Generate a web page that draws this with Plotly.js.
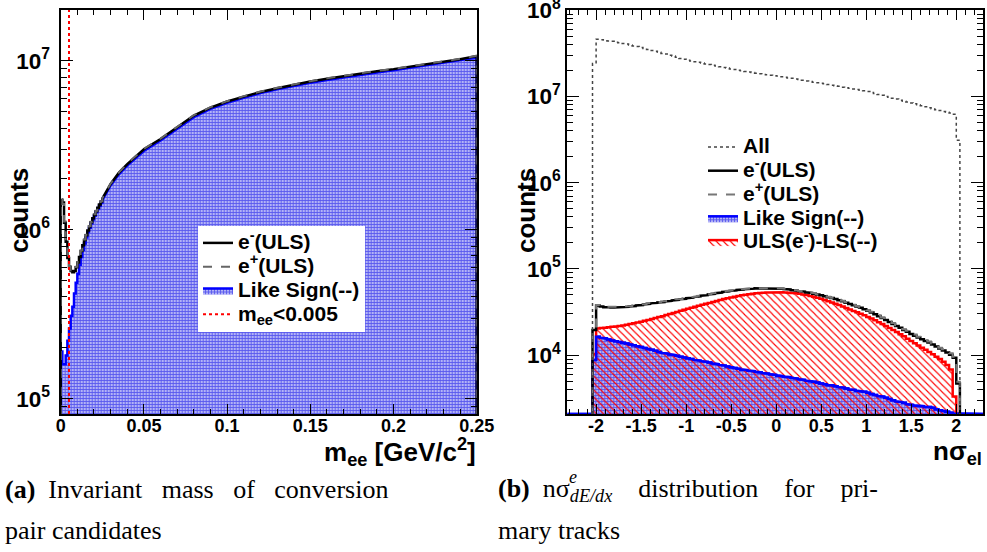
<!DOCTYPE html>
<html>
<head>
<meta charset="utf-8">
<script src="https://cdn.plot.ly/plotly-3.0.1.min.js"></script>
<style>html,body{margin:0;padding:0;background:#fff;}#chart{width:987px;height:552px;}</style>
</head>
<body>
<div id="chart"></div>
<script>
// ===================== DATA =====================
// (a) invariant mass of conversion pair candidates
const massLowEdges = [0.000,0.001,0.002,0.003,0.004,0.005,0.006,0.007,0.008,0.009,0.010,0.011,0.012,0.013,0.014,0.015,0.016,0.017,0.018,0.019,0.020,0.021,0.022,0.023,0.024,0.025];
const eMinusLow   = [1.50e6,1.45e6,1.10e6,8.5e5,6.8e5,6.0e5,5.7e5,5.6e5,5.7e5,6.0e5,6.4e5,6.9e5,7.5e5,8.1e5,8.7e5,9.3e5,9.9e5,1.05e6,1.11e6,1.17e6,1.23e6,1.29e6,1.35e6,1.41e6,1.47e6];
const ePlusLow    = [1.52e6,1.42e6,1.12e6,8.6e5,6.9e5,6.1e5,5.75e5,5.65e5,5.75e5,6.05e5,6.45e5,6.95e5,7.55e5,8.15e5,8.75e5,9.35e5,9.95e5,1.055e6,1.115e6,1.175e6,1.235e6,1.295e6,1.355e6,1.415e6,1.475e6];
const likeSignLow = [1.9e5,1.6e5,1.6e5,1.8e5,2.2e5,2.6e5,3.1e5,3.5e5,4.2e5,4.85e5,5.5e5,6.2e5,6.9e5,7.6e5,8.3e5,9.0e5,9.7e5,1.03e6,1.09e6,1.15e6,1.21e6,1.27e6,1.33e6,1.39e6,1.44e6];
const massHigh     = [0.025,0.03,0.035,0.04,0.045,0.05,0.06,0.07,0.08,0.09,0.10,0.11,0.12,0.13,0.14,0.15,0.16,0.17,0.18,0.19,0.20,0.21,0.22,0.23,0.24,0.25];
const eMinusHigh   = [1.53e6,1.87e6,2.18e6,2.45e6,2.70e6,3.00e6,3.45e6,4.05e6,4.75e6,5.30e6,5.75e6,6.15e6,6.55e6,6.90e6,7.25e6,7.55e6,7.85e6,8.15e6,8.40e6,8.70e6,8.95e6,9.25e6,9.55e6,9.90e6,1.025e7,1.07e7];
const ePlusHigh    = [1.54e6,1.88e6,2.19e6,2.47e6,2.72e6,3.02e6,3.47e6,4.08e6,4.78e6,5.33e6,5.78e6,6.19e6,6.59e6,6.94e6,7.29e6,7.59e6,7.89e6,8.19e6,8.44e6,8.74e6,8.99e6,9.29e6,9.60e6,9.95e6,1.03e7,1.075e7];
const likeSignHigh = [1.50e6,1.83e6,2.13e6,2.40e6,2.65e6,2.93e6,3.38e6,3.97e6,4.65e6,5.20e6,5.65e6,6.05e6,6.45e6,6.80e6,7.12e6,7.42e6,7.72e6,8.00e6,8.25e6,8.55e6,8.80e6,9.10e6,9.40e6,9.72e6,1.005e7,1.05e7];
const massCut = 0.005;

// (b) n sigma dE/dx of primary tracks : 102 bins of width 0.04 starting at -2.04
const nsigBinLow = -2.04, nsigBinWidth = 0.04;
const allTracksM = [24,46,45.5,45,44,43.5,42.5,42,41,40.5, 39.5,38.5,38,37,36,35,34,33.5,32.5,31.5, 31,30,29.5,28.5,27.5,27,26.3,25.8,25.3,24.9, 24.4,23.8,23.4,23,22.5,22.1,21.7,21.3,20.8,20.5, 20.1,19.8,19.5,19.2,18.9,18.6,18.3,18.0,17.8,17.6, 17.4,17.2,16.9,16.7,16.4,16.2,15.9,15.7,15.4,15.1, 14.9,14.6,14.4,14.2,14.0,13.7,13.5,13.3,13.1,12.8, 12.6,12.4,12.2,12.0,11.8,11.6,11.4,11.1,10.8,10.5, 10.3,10.0,9.75,9.5,9.3,9.05,8.8,8.6,8.4,8.2, 8.0,7.8,7.6,7.4,7.2,7.0,6.85,6.7,6.55,6.4, 6.2,3.1]; // millions
const eMinusULSk = [19.5,37.5,36.5,36.0,35.8,35.6,35.6,35.7,35.9,36.2, 36.6,37.1,37.6,38.1,38.7,39.3,39.8,40.3,40.8,41.3, 41.9,42.5,43.1,43.7,44.3,45.0,45.7,46.4,47.1,47.9, 48.8,49.6,50.5,51.4,52.3,53.1,53.9,54.7,55.5,56.2, 56.9,57.5,58.1,58.6,59.0,59.4,59.7,59.9,60.0,60.0, 59.8,59.4,58.9,58.3,57.6,56.8,55.9,55.2,54.5,53.5, 52.5,51.5,50.4,49.3,48.2,47.0,45.8,44.6,43.3,42.0, 40.6,39.2,37.9,36.6,35.3,34.0,32.6,31.2,29.8,28.3, 26.9,25.5,24.2,23.0,21.8,20.7,19.6,18.6,17.6,16.8, 16.0,15.3,14.6,14.0,13.3,12.6,11.9,11.3,10.7,10.1, 9.3,4.7]; // thousands
const ePlusULSk = [19.0,38.2,37.0,36.6,36.3,36.2,36.1,36.3,36.4,36.8, 37.1,37.7,38.1,38.7,39.2,39.9,40.3,40.9,41.3,41.9, 42.4,43.1,43.6,44.3,44.8,45.6,46.2,47.0,47.6,48.5, 49.3,50.2,51.0,52.0,52.8,53.7,54.4,55.3,56.0,56.8, 57.4,58.1,58.6,59.2,59.5,60.0,60.2,60.5,60.5,60.6, 60.3,60.0,59.4,58.9,58.1,57.4,56.4,55.8,55.0,54.1, 53.0,52.1,50.9,49.9,48.7,47.6,46.3,45.2,43.8,42.6, 41.1,39.8,38.3,37.2,35.7,34.6,33.0,31.8,30.2,28.9, 27.3,26.1,24.6,23.5,22.2,21.2,20.0,19.1,18.0,17.3, 16.3,15.7,14.9,14.4,13.6,13.0,12.2,11.7,11.0,10.5, 9.6,4.9];
const likeSignK = [8.8,16.3,15.9,15.6,15.2,14.8,14.5,14.2,13.9,13.6, 13.3,13.0,12.7,12.4,12.1,11.8,11.5,11.2,10.9,10.6, 10.4,10.2,10.0,9.8,9.6,9.4,9.2,9.0,8.8,8.65, 8.5,8.35,8.2,8.0,7.85,7.7,7.55,7.4,7.25,7.1, 6.95,6.8,6.7,6.6,6.5,6.4,6.3,6.2,6.1,6.0, 5.9,5.8,5.7,5.6,5.55,5.45,5.35,5.25,5.15,5.05, 4.95,4.9,4.8,4.7,4.6,4.5,4.45,4.35,4.25,4.2, 4.1,4.0,3.95,3.85,3.8,3.75,3.65,3.55,3.45,3.35, 3.3,3.2,3.1,3.0,2.9,2.85,2.8,2.7,2.65,2.6, 2.6,2.55,2.5,2.5,2.45,2.35,2.3,2.25,2.2,2.15, 2.1,0];
const ulsMinusLSk = [10.3,20.3,20.6,20.8,21.0,21.3,21.5,21.8,22.1,22.5, 22.9,23.4,23.9,24.4,25.0,25.6,26.2,26.9,27.6,28.3, 29.1,29.9,30.8,31.7,32.6,33.5,34.4,35.3,36.3,37.3, 38.3,39.3,40.3,41.4,42.5,43.6,44.6,45.7,46.7,47.6, 48.5,49.3,50.1,50.8,51.4,52.0,52.5,52.9,53.2,53.4, 53.5,53.5,53.4,53.2,52.9,52.5,52.0,51.4,50.6,49.7, 48.6,47.4,46.2,44.9,43.6,42.2,40.8,39.4,38.0,36.6, 35.2,33.8,32.5,31.3,30.1,28.9,27.7,26.5,25.3,24.1, 22.9,21.7,20.6,19.5,18.5,17.5,16.5,15.5,14.6,13.7, 12.9,12.2,11.5,10.9,10.2,9.6,9.0,8.4,7.7,6.8, 3.3,0];
const nsigTickVals = [-2,-1.5,-1,-0.5,0,0.5,1,1.5,2];
const nsigTickText = ['-2','-1.5','-1','-0.5','0','0.5','1','1.5','2'];

// ===================== BUILD =====================
const W = 987, H = 552;
const FONT = 'Liberation Sans, Arial, Helvetica, sans-serif';
const px = v => v / W, py = v => 1 - v / H;
const rangeA = {x:[0,0.25], y:[4.909,7.302]};
const rangeB = {x:[-2.32,2.30], y:[3.317,8.002]};
const floorA = Math.pow(10, rangeA.y[0]);
const floorB = Math.pow(10, rangeB.y[0]);
const topA = Math.pow(10, rangeA.y[1]);

function scaleArr(a, f){ return a.map(v => v * f); }

// step points for a histogram given edges + values (zero -> floor)
function histXY(edges, vals, floor, extendTo){
  const x = [], y = [];
  if (extendTo) { x.push(extendTo[0]); y.push(floor); }
  x.push(edges[0]); y.push(floor);
  for (let i = 0; i < vals.length; i++){
    const v = vals[i] > 0 ? vals[i] : floor;
    x.push(edges[i], edges[i+1]); y.push(v, v);
  }
  x.push(edges[vals.length]); y.push(floor);
  if (extendTo) { x.push(extendTo[1]); y.push(floor); }
  return {x, y};
}
// (a): fine steps at low mass, smooth curve afterwards
function massXY(low, high, floor){
  const h = histXY(massLowEdges, low, floor);
  const x = h.x.slice(0, -1), y = h.y.slice(0, -1);
  for (let i = 0; i < massHigh.length; i++){ x.push(massHigh[i]); y.push(high[i]); }
  x.push(massHigh[massHigh.length-1]); y.push(floor);
  return {x, y};
}
const nBins = allTracksM.length;
const nsigEdges = [];
for (let i = 0; i <= nBins; i++) nsigEdges.push(+(nsigBinLow + i * nsigBinWidth).toFixed(4));

const blueFillPattern = {shape:'+', size:3, solidity:0.5, fgcolor:'#5858ee', bgcolor:'#b3b3f6'};
const redFillPattern  = {shape:'\\', size:5, solidity:0.22, fgcolor:'#ff0000', bgcolor:'rgba(0,0,0,0)'};
const sp = s => '<span style="font-size:21px">' + s + '</span>';

const traces = [];
// ---- (a)
const aLS = massXY(likeSignLow, likeSignHigh, floorA);
const aEM = massXY(eMinusLow, eMinusHigh, floorA);
const aEP = massXY(ePlusLow, ePlusHigh, floorA);
traces.push({x:aLS.x, y:aLS.y, xaxis:'x', yaxis:'y', mode:'lines', fill:'toself', fillcolor:'#a0a0f2', fillpattern:blueFillPattern,
  line:{color:'#0000ff', width:2.5}, name:sp('Like Sign(--)'), legend:'legend', legendrank:3, hoverinfo:'skip'});
traces.push({x:aEM.x, y:aEM.y, xaxis:'x', yaxis:'y', mode:'lines', line:{color:'#000000', width:2.5},
  name:sp('e<sup>-</sup>(ULS)'), legend:'legend', legendrank:1});
traces.push({x:aEP.x, y:aEP.y, xaxis:'x', yaxis:'y', mode:'lines', line:{color:'#666666', width:2, dash:'dash'},
  name:sp('e<sup>+</sup>(ULS)'), legend:'legend', legendrank:2});
traces.push({x:[massCut, massCut], y:[floorA, topA], xaxis:'x', yaxis:'y', mode:'lines', line:{color:'#ff0000', width:2, dash:'dot'},
  name:sp('m<sub>ee</sub>&lt;0.005'), legend:'legend', legendrank:4});

// ---- (b)
const bLS  = histXY(nsigEdges, scaleArr(likeSignK, 1e3), floorB, rangeB.x);
const bSub = histXY(nsigEdges, scaleArr(ulsMinusLSk, 1e3), floorB);
const bEM  = histXY(nsigEdges, scaleArr(eMinusULSk, 1e3), floorB);
const bEP  = histXY(nsigEdges, scaleArr(ePlusULSk, 1e3), floorB);
const bAll = histXY(nsigEdges, scaleArr(allTracksM, 1e6), floorB);
traces.push({x:bLS.x, y:bLS.y, xaxis:'x2', yaxis:'y2', mode:'lines', fill:'toself', fillcolor:'#a0a0f2', fillpattern:blueFillPattern,
  line:{color:'#0000ff', width:2.5}, name:sp('Like Sign(--)'), legend:'legend2', legendrank:4});
traces.push({x:bSub.x, y:bSub.y, xaxis:'x2', yaxis:'y2', mode:'lines', fill:'toself', fillcolor:'rgba(0,0,0,0)', fillpattern:redFillPattern,
  line:{color:'#ff0000', width:2.5}, name:sp('ULS(e<sup>-</sup>)-LS(--)'), legend:'legend2', legendrank:5});
traces.push({x:bLS.x, y:bLS.y, xaxis:'x2', yaxis:'y2', mode:'lines', line:{color:'#0000ff', width:2.5}, showlegend:false, hoverinfo:'skip'});
traces.push({x:bEM.x, y:bEM.y, xaxis:'x2', yaxis:'y2', mode:'lines', line:{color:'#000000', width:2.5},
  name:sp('e<sup>-</sup>(ULS)'), legend:'legend2', legendrank:2});
traces.push({x:bEP.x, y:bEP.y, xaxis:'x2', yaxis:'y2', mode:'lines', line:{color:'#777777', width:2, dash:'dash'},
  name:sp('e<sup>+</sup>(ULS)'), legend:'legend2', legendrank:3});
traces.push({x:bAll.x, y:bAll.y, xaxis:'x2', yaxis:'y2', mode:'lines', line:{color:'#444444', width:1.5, dash:'dot'},
  name:sp('All'), legend:'legend2', legendrank:1});

const tickFont = {family:FONT, size:18, color:'#000', weight:700};
function xAxis(dom, anchor, range, extra){
  return Object.assign({domain:dom, anchor:anchor, range:range, showgrid:false, zeroline:false,
    showline:true, linecolor:'#000', linewidth:2, mirror:'allticks',
    ticks:'inside', ticklen:10, tickwidth:1, tickcolor:'#000', tickfont:tickFont,
    ticklabelstandoff:-6, ticklabeloverflow:'allow', fixedrange:true}, extra);
}
function yAxis(dom, anchor, range, standoff){
  return {domain:dom, anchor:anchor, type:'log', range:range, showgrid:false, zeroline:false,
    showline:true, linecolor:'#000', linewidth:2, mirror:'allticks',
    ticks:'inside', ticklen:12, tickwidth:1, tickcolor:'#000', tickfont:tickFont,
    dtick:1, exponentformat:'power', ticklabelstandoff:standoff, ticklabeloverflow:'allow',
    minor:{ticks:'inside', ticklen:6, tickwidth:1, tickcolor:'#000', dtick:'D1', showgrid:false},
    fixedrange:true};
}
const ann = [];
function addText(text, x, y, size, opts){
  ann.push(Object.assign({text:text, x:px(x), y:py(y), xref:'paper', yref:'paper', showarrow:false,
    font:{family:FONT, size:size, color:'#000', weight:700}, xanchor:'center', yanchor:'middle'}, opts || {}));
}
addText('counts', 19, 211, 26, {textangle:-90});
addText('counts', 526, 211, 26, {textangle:-90});
addText('m<sub>ee</sub> [GeV/c<sup>2</sup>]', 478, 452, 26, {xanchor:'right'});
addText('nσ<sub>el</sub>', 984, 452, 26, {xanchor:'right'});
const capFont = {family:'Liberation Serif, Times New Roman, serif', size:26, color:'#000'};
addText('<b>(a)</b>  Invariant   mass   of   conversion', 3, 490, 26, {xanchor:'left', font:capFont});
addText('pair candidates', 3, 530, 26, {xanchor:'left', font:capFont});
addText('<b>(b)</b>  nσ<sub><i>dE/dx</i></sub>    distribution    for    pri-', 496, 490, 26, {xanchor:'left', font:capFont});
addText('<i>e</i>', 567, 477, 18, {xanchor:'left', font:{family:'Liberation Serif, Times New Roman, serif', size:18, color:'#000'}});
addText('mary tracks', 496, 530, 26, {xanchor:'left', font:capFont});

const layout = {
  width:W, height:H, margin:{l:0, r:0, t:0, b:0}, paper_bgcolor:'#fff', plot_bgcolor:'#fff',
  font:{family:FONT, color:'#000'}, showlegend:true, hovermode:false,
  xaxis: xAxis([px(60.7), px(476.7)], 'y', rangeA.x, {dtick:0.05, tick0:0,
    minor:{ticks:'inside', ticklen:5, tickwidth:1, tickcolor:'#000', dtick:0.01, showgrid:false}}),
  yaxis: yAxis([py(414), py(10)], 'x', rangeA.y, 5),
  xaxis2: xAxis([px(567.3), px(983.3)], 'y2', rangeB.x, {tickmode:'array', tickvals:nsigTickVals, ticktext:nsigTickText,
    minor:{ticks:'inside', ticklen:5, tickwidth:1, tickcolor:'#000', dtick:0.1, tick0:0, showgrid:false}}),
  yaxis2: yAxis([py(414), py(10)], 'x2', rangeB.y, 1),
  legend:{x:px(198), y:py(226), xanchor:'left', yanchor:'top', bgcolor:'#fff', borderwidth:0,
    font:{family:FONT, size:16, color:'#000', weight:700}, itemwidth:30, traceorder:'normal'},
  legend2:{x:px(703), y:py(130), xanchor:'left', yanchor:'top', bgcolor:'rgba(0,0,0,0)', borderwidth:0,
    font:{family:FONT, size:16, color:'#000', weight:700}, itemwidth:30, traceorder:'normal'},
  annotations: ann
};
Plotly.newPlot('chart', traces, layout, {staticPlot:true, displayModeBar:false});
</script>
</body>
</html>
